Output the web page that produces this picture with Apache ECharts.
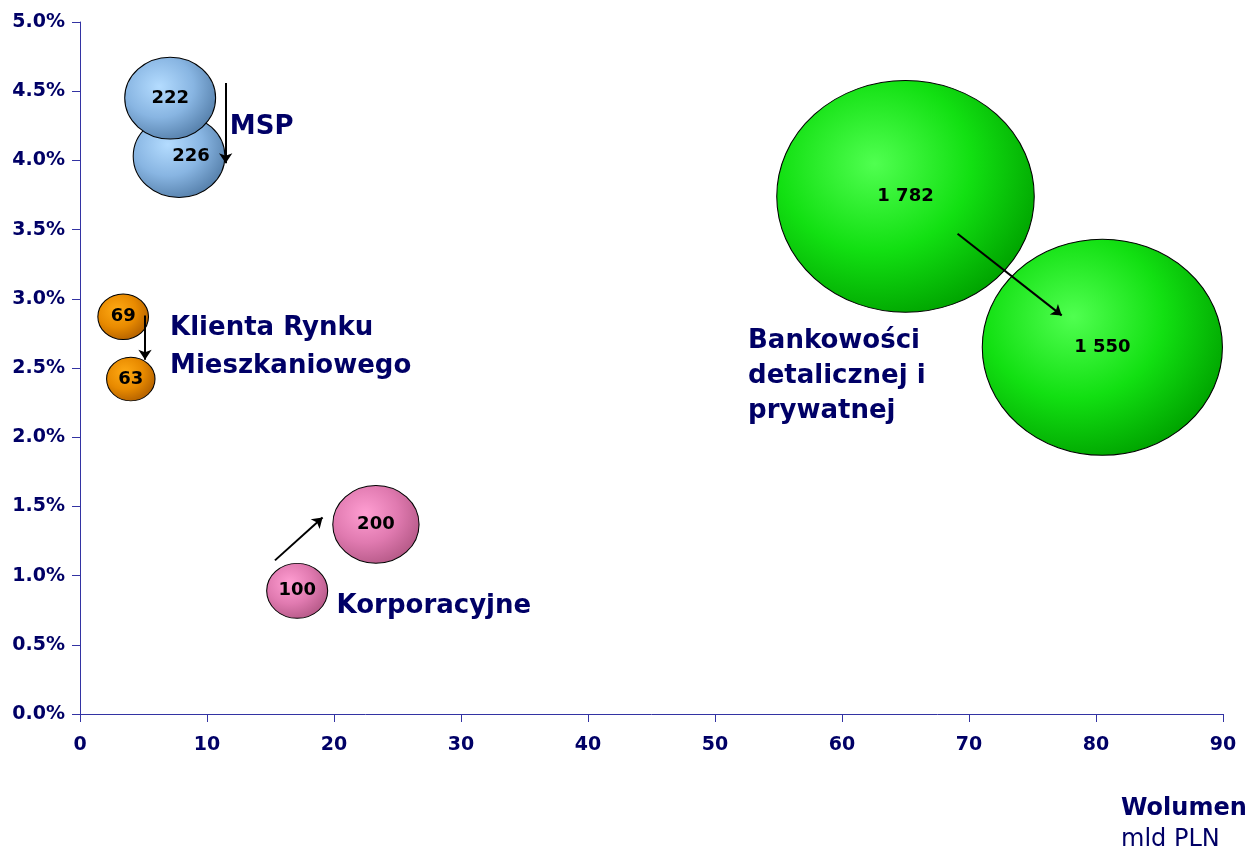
<!DOCTYPE html>
<html>
<head>
<meta charset="utf-8">
<script src="https://cdn.jsdelivr.net/npm/echarts@6/dist/echarts.min.js"></script>
<style>
  html, body { margin: 0; padding: 0; background: #ffffff; }
  #chart { width: 1250px; height: 850px; }
</style>
</head>
<body>
<div id="chart"></div>
<script>
// Customer segments: volume (mld PLN), margin (%) and number of clients (thousands)
const segments = ['MSP', 'Klienta Rynku Mieszkaniowego', 'Korporacyjne', 'Bankowości detalicznej i prywatnej'];
const segmentLabels = ['MSP', 'Klienta Rynku\nMieszkaniowego', 'Korporacyjne', 'Bankowości\ndetalicznej i\nprywatnej'];

const prevVolume  = [7.1, 3.4, 17.1, 65.0];
const prevMargin  = [4.45, 2.87, 0.89, 3.74];
const prevClients = [222, 69, 100, 1782];

const currVolume  = [7.8, 4.0, 23.3, 80.5];
const currMargin  = [4.03, 2.42, 1.37, 2.65];
const currClients = [226, 63, 200, 1550];

// Direction-of-change arrows (volume, margin)
const arrowFrom = [[11.47, 4.56], [5.12, 2.88], [15.35, 1.11], [69.1, 3.47]];
const arrowTo   = [[11.47, 3.98], [5.12, 2.56], [19.1, 1.42], [77.3, 2.88]];

// Where each segment name is written (volume, margin)
const nameAnchor = [[11.8, 4.24], [7.09, 2.65], [20.2, 0.78], [52.6, 2.44]];

const xTicks = [0, 10, 20, 30, 40, 50, 60, 70, 80, 90];
const yTicks = [0, 0.5, 1, 1.5, 2, 2.5, 3, 3.5, 4, 4.5, 5];

// ---- styling ----
const FONT = '"DejaVu Sans", Verdana, sans-serif';
const NAVY = '#000066';
const AXIS = '#3333a3';
const palette = [
  ['#b4dcff', '#88b5e2', '#5680ab'],
  ['#ffaa14', '#e88a00', '#b26000'],
  ['#ff9ed2', '#e07ab0', '#b65a88'],
  ['#50ff50', '#12e012', '#00a400']
];
const nameLineHeight = [30, 38, 30, 35];
const prevOnTop = ['MSP'];
const currLabelOffset = [[12, 0], [0, 0], [0, 0], [0, 0]];
const SIZE_K = 6.1;

function fmtThousands(n) {
  return String(n).replace(/\B(?=(\d{3})+(?!\d))/g, ' ');
}

function gradient(c) {
  return {
    type: 'radial', x: 0.38, y: 0.36, r: 0.68,
    colorStops: [
      { offset: 0, color: c[0] },
      { offset: 0.55, color: c[1] },
      { offset: 1, color: c[2] }
    ]
  };
}

const series = [];

segments.forEach((name, i) => {
  const prev = { value: [prevVolume[i], prevMargin[i], prevClients[i]] };
  const curr = {
    value: [currVolume[i], currMargin[i], currClients[i]],
    label: { offset: currLabelOffset[i] }
  };
  const data = prevOnTop.includes(name) ? [curr, prev] : [prev, curr];
  series.push({
    name: name,
    type: 'scatter',
    z: 2,
    data: data,
    symbol: 'circle',
    symbolSize: (v) => {
      const w = SIZE_K * Math.sqrt(v[2]);
      return [w, w * 0.9];
    },
    itemStyle: {
      color: gradient(palette[i]),
      borderColor: '#000000',
      borderWidth: 1,
      opacity: 1
    },
    label: {
      show: true,
      position: 'inside',
      formatter: (p) => fmtThousands(p.value[2]),
      color: '#000000',
      fontFamily: FONT,
      fontWeight: 'bold',
      fontSize: 18
    },
    emphasis: { disabled: true }
  });
});

series.push({
  name: 'arrows',
  type: 'lines',
  coordinateSystem: 'cartesian2d',
  z: 3,
  symbol: ['none', 'arrow'],
  symbolSize: 10,
  lineStyle: { color: '#000000', width: 2, opacity: 1 },
  data: arrowFrom.map((f, i) => ({ coords: [f, arrowTo[i]] })),
  silent: true
});

series.push({
  name: 'names',
  type: 'scatter',
  z: 4,
  symbolSize: 0,
  silent: true,
  itemStyle: { opacity: 1 },
  data: nameAnchor.map((p, i) => ({
    value: p,
    label: { formatter: segmentLabels[i], lineHeight: nameLineHeight[i] }
  })),
  label: {
    show: true,
    position: [0, 0],
    align: 'left',
    verticalAlign: 'middle',
    color: NAVY,
    fontFamily: FONT,
    fontWeight: 'bold',
    fontSize: 26
  },
  emphasis: { disabled: true }
});

const axisCommon = {
  type: 'value',
  axisLine: { show: true, onZero: false, lineStyle: { color: AXIS, width: 1 } },
  axisTick: { show: true, inside: false, length: 8, lineStyle: { color: AXIS, width: 1 } },
  splitLine: { show: false },
  axisLabel: {
    color: NAVY,
    fontFamily: FONT,
    fontWeight: 'bold',
    fontSize: 19
  }
};

const chart = echarts.init(document.getElementById('chart'), null, { renderer: 'canvas' });
chart.setOption({
  backgroundColor: '#ffffff',
  animation: false,
  grid: { left: 80, right: 27, top: 22, bottom: 136, containLabel: false },
  xAxis: Object.assign({}, axisCommon, {
    min: xTicks[0], max: xTicks[xTicks.length - 1], interval: xTicks[1] - xTicks[0],
    axisLabel: Object.assign({}, axisCommon.axisLabel, { margin: 22 })
  }),
  yAxis: Object.assign({}, axisCommon, {
    min: yTicks[0], max: yTicks[yTicks.length - 1], interval: yTicks[1] - yTicks[0],
    axisLabel: Object.assign({}, axisCommon.axisLabel, {
      margin: 15,
      formatter: (v) => v.toFixed(1) + '%'
    })
  }),
  graphic: [
    {
      type: 'text', left: 1121, top: 797,
      style: { text: 'Wolumen', fill: NAVY, font: 'bold 24px ' + FONT }
    },
    {
      type: 'text', left: 1121, top: 828,
      style: { text: 'mld PLN', fill: NAVY, font: '24px ' + FONT }
    }
  ],
  series: series
});
</script>
</body>
</html>
